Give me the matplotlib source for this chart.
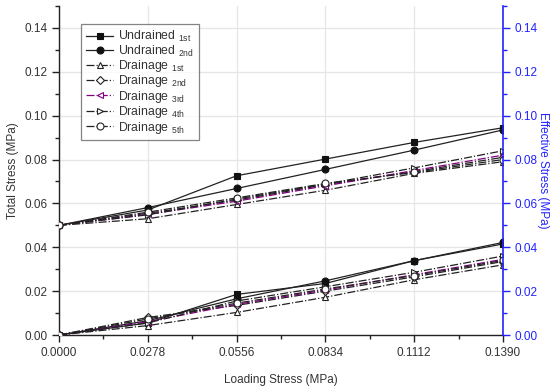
import matplotlib
matplotlib.use("Agg")
import matplotlib.pyplot as plt
from matplotlib.ticker import MultipleLocator, FixedLocator

plt.rcParams['font.family'] = ['Liberation Sans', 'DejaVu Sans']

x = [0.0, 0.0278, 0.0556, 0.0834, 0.1112, 0.1390]
x_ticks = [0.0, 0.0278, 0.0556, 0.0834, 0.1112, 0.1390]
x_tick_labels = ["0.0000", "0.0278", "0.0556", "0.0834", "0.1112", "0.1390"]

# Total stress (upper group)
und1_total = [0.050, 0.057, 0.0726, 0.0802, 0.0878, 0.0945]
und2_total = [0.050, 0.0581, 0.0668, 0.0755, 0.0843, 0.0935]
dr1_total = [0.050, 0.053, 0.0595, 0.066, 0.0737, 0.079]
dr2_total = [0.050, 0.0555, 0.0615, 0.0685, 0.0745, 0.081]
dr3_total = [0.050, 0.055, 0.061, 0.068, 0.075, 0.082]
dr4_total = [0.050, 0.0548, 0.062, 0.0688, 0.0762, 0.084]
dr5_total = [0.050, 0.056, 0.0625, 0.0691, 0.0741, 0.080]

# Effective stress (lower group)
und1_eff = [0.0, 0.0055, 0.0185, 0.0235, 0.0339, 0.0415]
und2_eff = [0.0, 0.0065, 0.0165, 0.0247, 0.0339, 0.0422]
dr1_eff = [0.0, 0.0043, 0.0103, 0.0172, 0.0252, 0.032]
dr2_eff = [0.0, 0.008, 0.0135, 0.020, 0.0265, 0.0335]
dr3_eff = [0.0, 0.006, 0.014, 0.0205, 0.0275, 0.0345]
dr4_eff = [0.0, 0.0055, 0.0155, 0.022, 0.0286, 0.036]
dr5_eff = [0.0, 0.0073, 0.0145, 0.021, 0.0271, 0.034]

labels = ["Undrained $\\mathregular{_{1st}}$", "Undrained $\\mathregular{_{2nd}}$",
          "Drainage $\\mathregular{_{1st}}$", "Drainage $\\mathregular{_{2nd}}$",
          "Drainage $\\mathregular{_{3rd}}$", "Drainage $\\mathregular{_{4th}}$",
          "Drainage $\\mathregular{_{5th}}$"]

styles = [
    dict(marker='s', ls='-', color='#222222', mfc='#111111', mec='#111111'),
    dict(marker='o', ls='-', color='#222222', mfc='#111111', mec='#111111'),
    dict(marker='^', ls='-.', color='#222222', mfc='white', mec='#222222'),
    dict(marker='D', ls='-.', color='#222222', mfc='white', mec='#222222', ms=4.2),
    dict(marker='<', ls='-.', color='#800080', mfc='white', mec='#800080'),
    dict(marker='>', ls='-.', color='#222222', mfc='white', mec='#222222'),
    dict(marker='o', ls='-.', color='#222222', mfc='white', mec='#222222'),
]

totals = [und1_total, und2_total, dr1_total, dr2_total, dr3_total, dr4_total, dr5_total]
effs = [und1_eff, und2_eff, dr1_eff, dr2_eff, dr3_eff, dr4_eff, dr5_eff]

fig = plt.figure(figsize=(5.51, 3.89), dpi=100)
ax = fig.add_axes([59/551, 1-335/389, (503-59)/551, (335-6)/389])

txt = '#333333'
handles = []
for ys, st, lab in zip(totals, styles, labels):
    st = dict(st)
    ms = st.pop('ms', 5)
    h, = ax.plot(x, ys, lw=0.9, ms=ms, mew=0.8, label=lab, zorder=3, **st)
    handles.append(h)
for ys, st in zip(effs, styles):
    st = dict(st)
    ms = st.pop('ms', 5)
    ax.plot(x, ys, lw=0.9, ms=ms, mew=0.8, zorder=3, **st)

ax.set_xlim(0, 0.139)
ax.set_ylim(0, 0.15)
ax.xaxis.set_major_locator(FixedLocator(x_ticks))
ax.set_xticklabels(x_tick_labels)
ax.xaxis.set_minor_locator(MultipleLocator(0.0139))
ax.yaxis.set_major_locator(FixedLocator([0, 0.02, 0.04, 0.06, 0.08, 0.10, 0.12, 0.14]))
ax.set_yticklabels(["0.00", "0.02", "0.04", "0.06", "0.08", "0.10", "0.12", "0.14"])
ax.yaxis.set_minor_locator(MultipleLocator(0.01))
ax.grid(True, which='major', color='#e6e6e6', lw=0.9, zorder=0)
ax.set_axisbelow(True)
ax.spines['top'].set_visible(False)
ax.spines['right'].set_visible(False)
for s in ['left', 'bottom']:
    ax.spines[s].set_color('#222222')
    ax.spines[s].set_linewidth(1.0)
ax.tick_params(which='major', direction='out', length=5, width=1.0, colors='#222222',
               labelsize=8.5, labelcolor=txt)
ax.tick_params(which='minor', direction='out', length=3, width=1.0, colors='#222222')
ax.set_xlabel("Loading Stress (MPa)", fontsize=8.5, color=txt, labelpad=11)
ax.set_ylabel("Total Stress (MPa)", fontsize=8.5, color=txt, labelpad=4)

ax2 = ax.twinx()
ax2.set_ylim(0, 0.15)
ax2.yaxis.set_major_locator(FixedLocator([0, 0.02, 0.04, 0.06, 0.08, 0.10, 0.12, 0.14]))
ax2.set_yticklabels(["0.00", "0.02", "0.04", "0.06", "0.08", "0.10", "0.12", "0.14"])
ax2.yaxis.set_minor_locator(MultipleLocator(0.01))
for s in ['top', 'left', 'bottom']:
    ax2.spines[s].set_visible(False)
ax2.spines['right'].set_color('#2222ff')
ax2.spines['right'].set_linewidth(1.2)
ax2.tick_params(which='major', direction='out', length=5, width=1.0, colors='#2222ff',
                labelsize=8.5, labelcolor='#2222ff')
ax2.tick_params(which='minor', direction='out', length=3, width=1.0, colors='#2222ff')
ax2.set_ylabel("Effective Stress (MPa)", fontsize=8.5, color='#2222ff', rotation=270,
               labelpad=8)

leg = ax.legend(handles=handles, loc='upper left', bbox_to_anchor=(0.05, 0.945),
                fontsize=8.8, labelspacing=-0.05, handlelength=2.2, handletextpad=0.4,
                borderpad=0.4, frameon=True, fancybox=False, edgecolor='#666666',
                borderaxespad=0)
leg.get_frame().set_linewidth(0.9)
for t in leg.get_texts():
    t.set_color(txt)

fig.savefig("out.png", dpi=100)
